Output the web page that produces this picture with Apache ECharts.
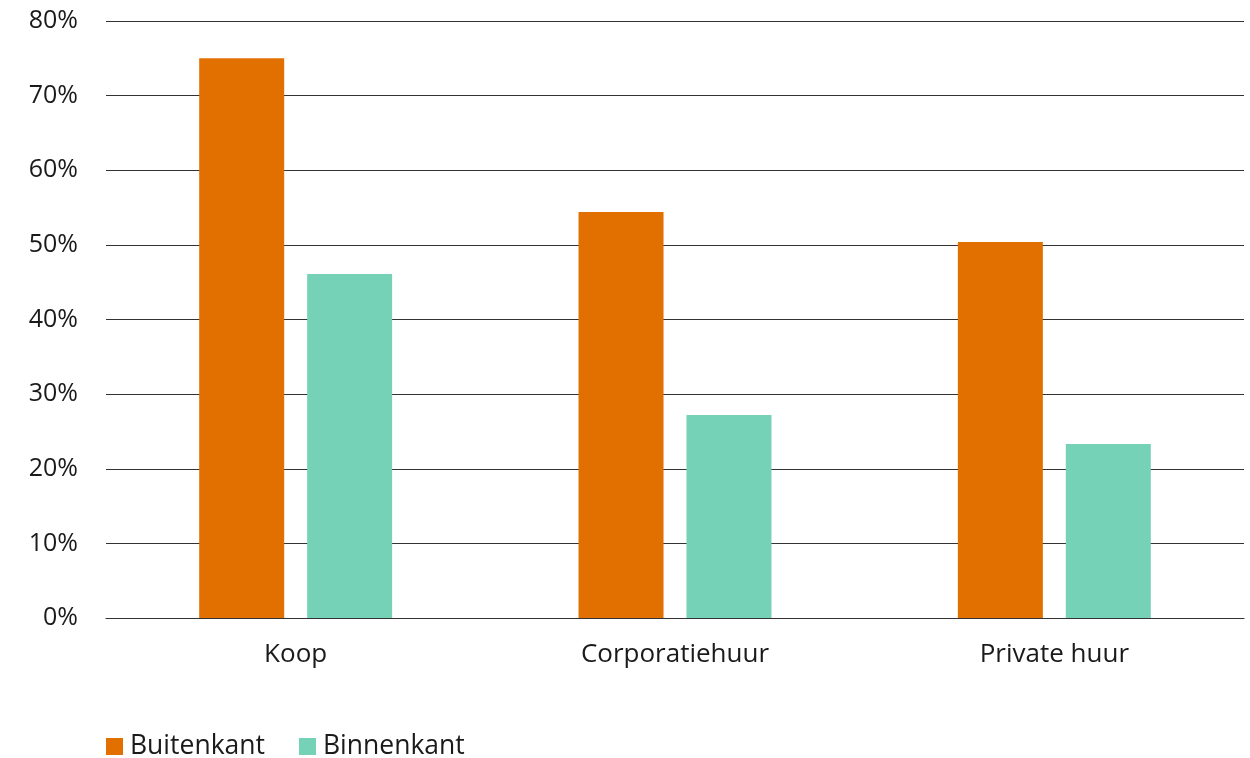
<!DOCTYPE html>
<html>
<head>
<meta charset="utf-8">
<script src="https://cdn.jsdelivr.net/npm/echarts@6/dist/echarts.min.js"></script>
<style>
  html, body { margin: 0; padding: 0; background: #fff; }
  #chart { width: 1250px; height: 758px; }
</style>
</head>
<body>
<div id="chart"></div>
<script>
const categories = ['Koop', 'Corporatiehuur', 'Private huur'];
const seriesNames = ['Buitenkant', 'Binnenkant'];
const buitenkant = [75.0, 54.4, 50.4];
const binnenkant = [46.1, 27.2, 23.3];
const yTicks = [0, 10, 20, 30, 40, 50, 60, 70, 80];

const FONT = '"Open Sans", "Noto Sans", sans-serif';
const TEXT = '#1a1a1a';

const chart = echarts.init(document.getElementById('chart'), null, { renderer: 'canvas' });
chart.setOption({
  animation: false,
  textStyle: { fontFamily: FONT },
  grid: { left: 106, right: 6, top: 21, bottom: 140, containLabel: false },
  legend: {
    left: 101, top: 728,
    itemWidth: 17, itemHeight: 17, itemGap: 34,
    icon: 'rect',
    textStyle: { fontFamily: FONT, fontSize: 26.5, color: TEXT, padding: [0, 0, 0, 2] },
    data: seriesNames
  },
  xAxis: {
    type: 'category',
    data: categories,
    axisLine: { show: true, lineStyle: { color: '#333', width: 1.2 } },
    axisTick: { show: false },
    axisLabel: { fontFamily: FONT, fontSize: 26, color: TEXT, margin: 24 }
  },
  yAxis: {
    type: 'value',
    min: yTicks[0], max: yTicks[yTicks.length - 1], interval: 10,
    axisLine: { show: false },
    axisTick: { show: false },
    splitLine: { show: true, lineStyle: { color: '#333', width: 1.2 } },
    axisLabel: {
      fontFamily: FONT, fontSize: 25, color: TEXT, margin: 28,
      formatter: v => v + '%'
    }
  },
  series: [
    {
      name: seriesNames[0], type: 'bar', data: buitenkant,
      itemStyle: { color: '#E17000' },
      barWidth: 85, barGap: '27%'
    },
    {
      name: seriesNames[1], type: 'bar', data: binnenkant,
      itemStyle: { color: '#76D2B6' },
      barWidth: 85
    }
  ]
});
</script>
</body>
</html>
